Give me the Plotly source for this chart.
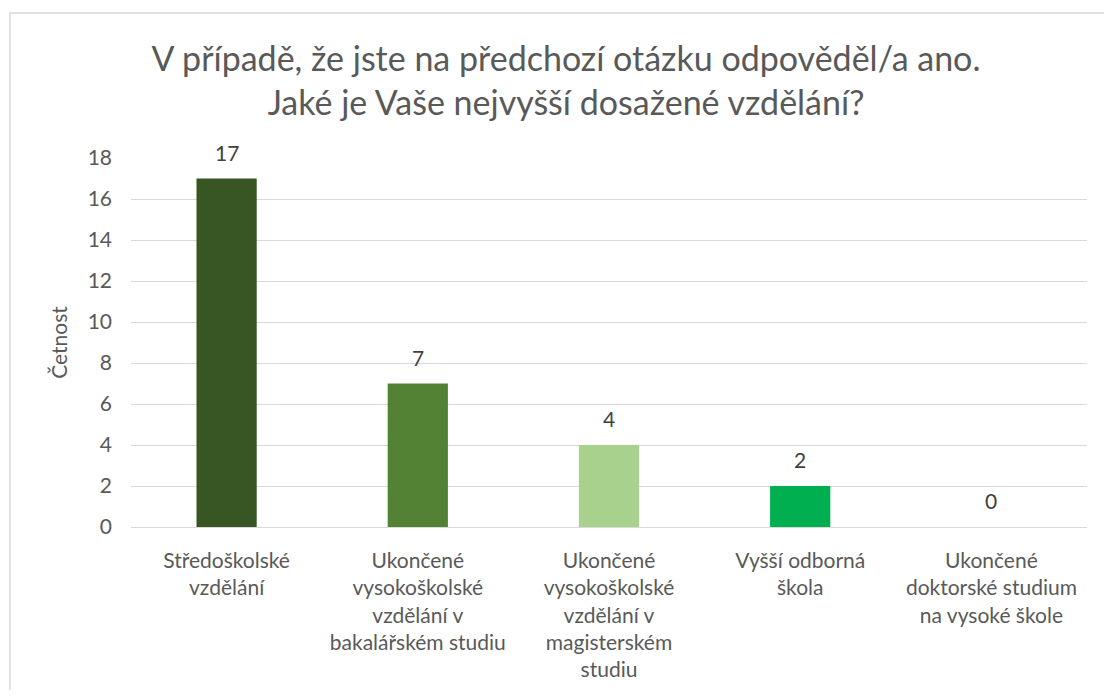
import plotly.graph_objects as go

categories = [
    "Středoškolské<br>vzdělání",
    "Ukončené<br>vysokoškolské<br>vzdělání v<br>bakalářském studiu",
    "Ukončené<br>vysokoškolské<br>vzdělání v<br>magisterském<br>studiu",
    "Vyšší odborná<br>škola",
    "Ukončené<br>doktorské studium<br>na vysoké škole",
]
values = [17, 7, 4, 2, 0]
colors = ["#375623", "#548235", "#A9D18E", "#00B050", "#00B050"]
y_ticks = [0, 2, 4, 6, 8, 10, 12, 14, 16, 18]
title_text = "V případě, že jste na předchozí otázku odpověděl/a ano.<br>Jaké je Vaše nejvyšší dosažené vzdělání?"
y_title = "Četnost"

FONT = "Lato"
W, H = 1096, 682
ml, mr, mt, mb = 123, 17, 150, 163
pw, ph = W - ml - mr, H - mt - mb

def px_x(p):
    return (p - ml) / pw

def px_y(p):
    return (H - mb - p) / ph

fig = go.Figure(
    go.Bar(
        x=categories,
        y=values,
        marker=dict(color=colors, line=dict(width=0)),
        cliponaxis=False,
        width=0.315,
        hoverinfo="x+y",
    )
)

for c, v in zip(categories, values):
    fig.add_annotation(
        x=c, y=v, xref="x", yref="y",
        text=str(v), showarrow=False,
        yanchor="bottom", yshift=12,
        font=dict(family=FONT, size=21, color="#404040"),
    )

bx0, bx1 = px_x(2), px_x(W + 4)
by_top, by_bot = px_y(5), px_y(H + 10)
border_path = f"M {bx0},{by_bot} L {bx0},{by_top} L {bx1},{by_top}"

fig.update_layout(
    width=W,
    height=H,
    margin=dict(l=ml, r=mr, t=mt, b=mb),
    paper_bgcolor="white",
    plot_bgcolor="white",
    showlegend=False,
    title=dict(
        text=title_text,
        x=558 / W,
        xanchor="center",
        y=1 - 63 / H,
        yanchor="top",
        font=dict(family=FONT, size=34, color="#595959"),
    ),
    font=dict(family=FONT, color="#595959"),
    xaxis=dict(
        tickfont=dict(family=FONT, size=21, color="#595959"),
        showgrid=False,
        showline=False,
        ticks="",
        fixedrange=True,
        automargin=False,
        ticklabelstandoff=19,
    ),
    yaxis=dict(
        range=[0, 18],
        tickvals=y_ticks,
        tickfont=dict(family=FONT, size=21, color="#595959"),
        showgrid=True,
        gridcolor="#D9D9D9",
        gridwidth=1.3,
        zeroline=True,
        zerolinecolor="#D9D9D9",
        zerolinewidth=1.3,
        showline=False,
        ticks="",
        ticklabelstandoff=18,
        automargin=False,
        title=dict(text=y_title, font=dict(family=FONT, size=21, color="#595959"), standoff=14),
    ),
    shapes=[
        dict(
            type="path",
            xref="paper",
            yref="paper",
            path=border_path,
            line=dict(color="#D9D9D9", width=1.5),
            layer="below",
        )
    ],
)

fig.write_html("out.html")
